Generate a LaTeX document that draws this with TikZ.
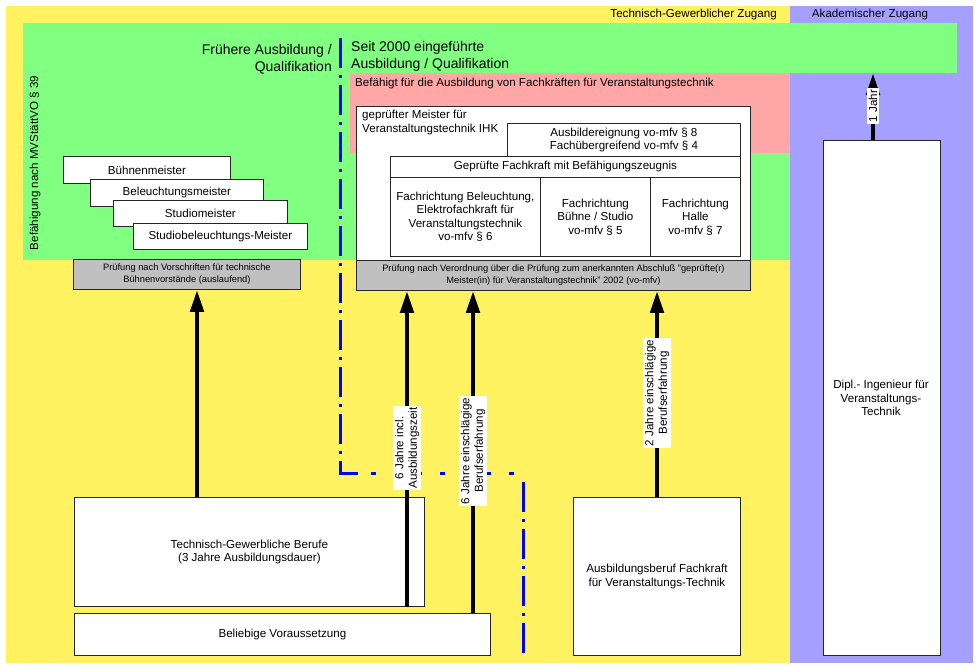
\documentclass[tikz,border=0pt]{standalone}
\usepackage{fontspec}
\setmainfont{Liberation Sans}
\usetikzlibrary{arrows.meta}
\definecolor{zgelb}{RGB}{255,242,97}
\definecolor{zgruen}{RGB}{128,255,128}
\definecolor{zrosa}{RGB}{255,166,166}
\definecolor{zlila}{RGB}{165,160,255}
\definecolor{zgrau}{RGB}{192,192,192}

\begin{document}
\begin{tikzpicture}[x=1pt,y=-1pt,
  box/.style={draw=black!85,fill=white,line width=0.8pt,inner sep=0pt,anchor=north west,
    align=center,font=\fontsize{11.6}{13.5}\selectfont},
  pruef/.style={box,fill=zgrau,font=\fontsize{9.3}{12}\selectfont},
  txt/.style={inner sep=0pt,font=\fontsize{11.6}{13.5}\selectfont},
  pfeil/.style={line width=4.5pt,-{Triangle[length=22pt,width=13pt]}},
  lbl/.style={fill=white,rotate=90,inner sep=1.5pt,align=center,font=\fontsize{11.6}{13.5}\selectfont},
  grenze/.style={draw=blue,line width=3pt,dash pattern=on 30pt off 7pt on 3pt off 7pt}]
  \useasboundingbox (0,0) rectangle (979,667);
  % Flaechen
  \fill[zgelb] (6,6) rectangle (790,663);
  \fill[zlila] (790,6) rectangle (973,663);
  \fill[zgruen] (23,23) rectangle (790,260);
  \fill[zgruen] (790,23) rectangle (957,73);
  \fill[zrosa] (350,73) rectangle (790,153);
  \coordinate (streifen) at (873,73);
  % Kopfzeile
  \node[txt,anchor=east] (tgz) at (777,14) {Technisch-Gewerblicher Zugang};
  \node[txt] (akz) at (870,14) {Akademischer Zugang};
  \node[txt,anchor=east,align=right,font=\fontsize{14}{17}\selectfont] (frueher) at (332,59) {Frühere Ausbildung /\\Qualifikation};
  \node[txt,anchor=west,align=left,font=\fontsize{14}{17}\selectfont] (seit) at (351,56) {Seit 2000 eingeführte\\Ausbildung / Qualifikation};
  \node[txt,anchor=west] (befaehigt) at (355,83) {Befähigt für die Ausbildung von Fachkräften für Veranstaltungstechnik};
  \node[txt,rotate=90] (mvst) at (35,163) {Befähigung nach MVStättVO § 39};
  % alte Meister
  \node[box,minimum width=167,minimum height=27] (buehne) at (63,156) {Bühnenmeister};
  \node[box,minimum width=173,minimum height=27] (beleucht) at (90,179) {Beleuchtungsmeister};
  \node[box,minimum width=174,minimum height=26] (studio) at (113,200) {Studiomeister};
  \node[box,minimum width=174,minimum height=26] (studiobel) at (133,223) {Studiobeleuchtungs-Meister};
  \node[pruef,minimum width=227,minimum height=30] (pbuehne) at (73,259) {Prüfung nach Vorschriften für technische\\Bühnenvorstände (auslaufend)};
  % Meister vo-mfv
  \node[box,minimum width=394,minimum height=154] (meister) at (356,106) {};
  \node[txt,anchor=north west,align=left] (meistertxt) at (362,110) {geprüfter Meister für\\Veranstaltungstechnik IHK};
  \node[box,minimum width=233,minimum height=33] (ausbilder) at (507,123) {Ausbildereignung vo-mfv § 8\\Fachübergreifend vo-mfv § 4};
  \node[box,minimum width=350,minimum height=21] (fachkraft) at (390,156) {Geprüfte Fachkraft mit Befähigungszeugnis};
  \node[box,minimum width=150,minimum height=79] (fbel) at (390,177) {Fachrichtung Beleuchtung,\\Elektrofachkraft für\\Veranstaltungstechnik\\vo-mfv § 6};
  \node[box,minimum width=110,minimum height=79] (fbuehne) at (540,177) {Fachrichtung\\Bühne / Studio\\vo-mfv § 5};
  \node[box,minimum width=90,minimum height=79] (fhalle) at (650,177) {Fachrichtung\\Halle\\vo-mfv § 7};
  \node[pruef,minimum width=394,minimum height=30] (pmeister) at (356,260) {Prüfung nach Verordnung über die Prüfung zum anerkannten Abschluß "geprüfte(r)\\Meister(in) für Veranstaltungstechnik" 2002 (vo-mfv)};
  % Voraussetzungen
  \node[box,minimum width=350,minimum height=109] (tg) at (74,497) {Technisch-Gewerbliche Berufe\\(3 Jahre Ausbildungsdauer)};
  \node[box,minimum width=416,minimum height=42] (beliebig) at (74,613) {Beliebige Voraussetzung};
  \node[box,minimum width=167,minimum height=158] (fvt) at (573,497) {Ausbildungsberuf Fachkraft\\für Veranstaltungs-Technik};
  \node[box,minimum width=117,minimum height=515] (dipl) at (823,140) {};
  \node[txt,align=center] (dipltxt) at (881,398) {Dipl.- Ingenieur für\\Veranstaltungs-\\Technik};
  % Grenze alt / neu
  \draw[grenze] (340,38) -- (340,473) -- (358,473);
  \draw[grenze,dash pattern=on 5pt off 18pt,dash phase=-13pt] (358,473) -- (517,473);
  \draw[grenze] (523,482) -- (523,655);
  % Wege
  \coordinate (w0) at (197,0);
  \coordinate (w1) at (407,0);
  \coordinate (w2) at (473,0);
  \coordinate (w3) at (657,0);
  \draw[pfeil] (tg.north -| w0) -- (w0 |- pbuehne.south);
  \draw[pfeil] (tg.south -| w1) -- (w1 |- pmeister.south);
  \draw[pfeil] (beliebig.north -| w2) -- (w2 |- pmeister.south);
  \draw[pfeil] (fvt.north -| w3) -- (w3 |- pmeister.south);
  \draw[pfeil] (dipl.north -| streifen) -- (streifen);
  \node[lbl] (l1) at (407,448) {6 Jahre incl.\\Ausbildungszeit};
  \node[lbl] (l2) at (473,451) {6 Jahre einschlägige\\Berufserfahrung};
  \node[lbl] (l3) at (657,393) {2 Jahre einschlägige\\Berufserfahrung};
  \node[lbl] (l4) at (873,106) {1 Jahr};
\end{tikzpicture}
\end{document}
